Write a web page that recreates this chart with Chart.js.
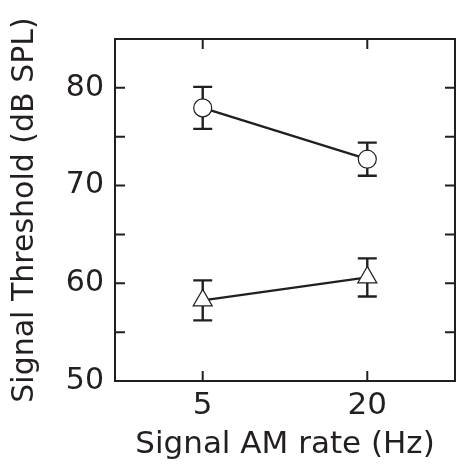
<!DOCTYPE html>
<html>
<head>
<meta charset="utf-8">
<script src="https://cdn.jsdelivr.net/npm/chart.js@4.4.1/dist/chart.umd.min.js"></script>
<style>
html,body{margin:0;padding:0;background:#fff;}
#wrap{width:457px;height:464px;}
</style>
</head>
<body>
<div id="wrap"><canvas id="c" width="457" height="464"></canvas></div>
<script>
// ---- data ----
const xLabels = ['5', '20'];
const xPositions = [0, 1];
const circleMean = [77.95, 72.7];
const circleErr = [2.15, 1.7];
const triangleMean = [58.25, 60.6];
const triangleErr = [2.05, 1.95];
const yTickLabels = [50, 60, 70, 80];

const INK = '#231f20';
const FONT = "'DejaVu Sans', sans-serif";

const errorBars = {
  id: 'errorBars',
  beforeDatasetsDraw(chart) {
    const ctx = chart.ctx;
    const ys = chart.scales.y;
    ctx.save();
    ctx.strokeStyle = INK;
    ctx.lineWidth = 2.4;
    chart.data.datasets.forEach((ds, di) => {
      const meta = chart.getDatasetMeta(di);
      meta.data.forEach((pt, i) => {
        const v = ds.data[i].y, e = ds.errors[i];
        const x = pt.x;
        const y1 = ys.getPixelForValue(v + e);
        const y2 = ys.getPixelForValue(v - e);
        ctx.beginPath();
        ctx.moveTo(x, y1); ctx.lineTo(x, y2);
        ctx.moveTo(x - 9.5, y1); ctx.lineTo(x + 9.5, y1);
        ctx.moveTo(x - 9.5, y2); ctx.lineTo(x + 9.5, y2);
        ctx.stroke();
      });
    });
    ctx.restore();
  }
};

const frame = {
  id: 'frame',
  afterDraw(chart) {
    const {ctx, chartArea: a, scales} = chart;
    ctx.save();
    ctx.strokeStyle = INK;
    ctx.lineWidth = 2;
    ctx.strokeRect(a.left, a.top, a.right - a.left, a.bottom - a.top);
    const L = 10;
    ctx.beginPath();
    scales.y.ticks.forEach(t => {
      if (t.value <= scales.y.min || t.value >= scales.y.max) return;
      const y = scales.y.getPixelForValue(t.value);
      ctx.moveTo(a.left, y); ctx.lineTo(a.left + L, y);
      ctx.moveTo(a.right, y); ctx.lineTo(a.right - L, y);
    });
    scales.x.ticks.forEach(t => {
      const x = scales.x.getPixelForValue(t.value);
      ctx.moveTo(x, a.bottom); ctx.lineTo(x, a.bottom - L);
      ctx.moveTo(x, a.top); ctx.lineTo(x, a.top + L);
    });
    ctx.stroke();
    ctx.restore();
  }
};

new Chart(document.getElementById('c'), {
  type: 'line',
  data: {
    datasets: [
      {
        label: 'circle',
        data: xPositions.map((x, i) => ({x, y: circleMean[i]})),
        errors: circleErr,
        borderColor: INK, borderWidth: 2.4,
        pointStyle: 'circle', pointRadius: 9, pointBorderWidth: 1.2,
        pointBackgroundColor: '#fff', pointBorderColor: INK
      },
      {
        label: 'triangle',
        data: xPositions.map((x, i) => ({x, y: triangleMean[i]})),
        errors: triangleErr,
        borderColor: INK, borderWidth: 2.4,
        pointStyle: 'triangle', pointRadius: 11, pointBorderWidth: 1.2,
        pointBackgroundColor: '#fff', pointBorderColor: INK
      }
    ]
  },
  options: {
    responsive: false,
    animation: false,
    devicePixelRatio: 1,
    layout: {autoPadding: false, padding: {top: 39, right: 2, left: 0, bottom: 0}},
    plugins: {legend: {display: false}, tooltip: {enabled: false}},
    scales: {
      x: {
        type: 'linear', min: -0.533, max: 1.533,
        afterBuildTicks: s => { s.ticks = xPositions.map(v => ({value: v})); },
        afterFit: s => { s.height = 83; s.paddingLeft = 0; s.paddingRight = 0; },
        grid: {display: false, drawTicks: false},
        border: {display: false},
        ticks: {
          callback: v => xLabels[xPositions.indexOf(v)],
          color: INK, font: {family: FONT, size: 31}, padding: 6, maxRotation: 0
        },
        title: {display: true, text: 'Signal AM rate (Hz)', color: INK,
                font: {family: FONT, size: 31}, padding: 0}
      },
      y: {
        min: 50, max: 85,
        afterFit: s => { s.width = 115; s.paddingTop = 0; s.paddingBottom = 0; },
        grid: {display: false, drawTicks: false},
        border: {display: false},
        ticks: {
          stepSize: 5,
          callback: v => yTickLabels.includes(v) ? String(v) : '',
          color: INK, font: {family: FONT, size: 30}, padding: 11
        },
        title: {display: true, text: 'Signal Threshold (dB SPL)', color: INK,
                font: {family: FONT, size: 30}, padding: {top: 7, bottom: 0}}
      }
    }
  },
  plugins: [errorBars, frame]
});
</script>
</body>
</html>
